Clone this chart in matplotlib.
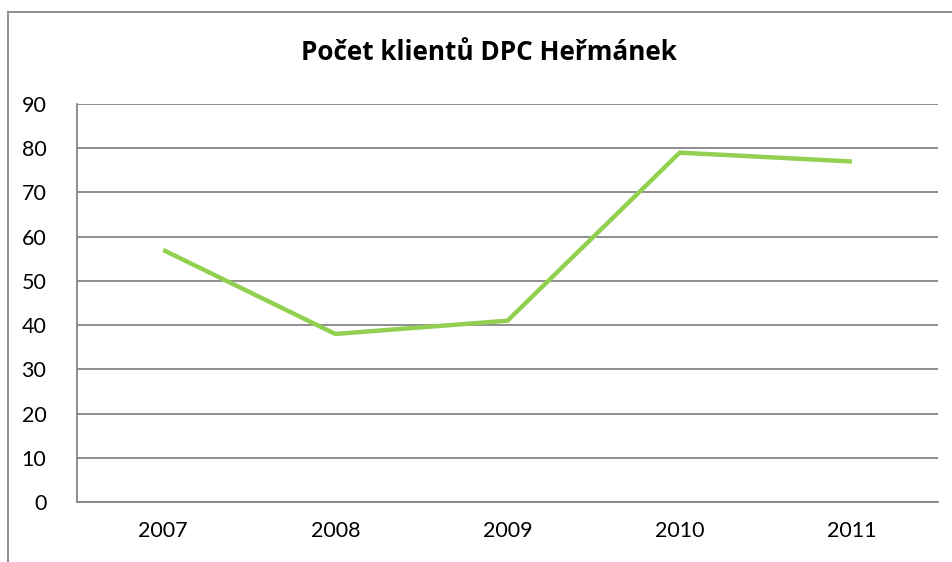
import matplotlib
matplotlib.use("Agg")
import matplotlib.pyplot as plt
from matplotlib.lines import Line2D

years = ["2007", "2008", "2009", "2010", "2011"]
clients = [57, 38, 41, 79, 77]
yticks = [0, 10, 20, 30, 40, 50, 60, 70, 80, 90]
title = "Počet klientů DPC Heřmánek"

plt.rcParams['font.family'] = ['Lato', 'DejaVu Sans']

W, H = 953, 562
fig = plt.figure(figsize=(W/100, H/100), dpi=100)
ax = fig.add_axes([77/W, 1-502/H, (938-77)/W, (502-104)/H])

x = range(len(years))
ax.plot(x, clients, color="#92D050", lw=3.2, solid_capstyle="butt", zorder=3)
ax.set_xlim(-0.5, len(years)-0.5)
ax.set_ylim(0, 90)
ax.set_yticks(yticks)
ax.set_xticks(list(x))
ax.set_xticklabels(years)
ax.grid(axis="y", color="#868686", lw=1.3)
ax.set_axisbelow(True)
for s in ["top", "right"]:
    ax.spines[s].set_visible(False)
for s in ["left", "bottom"]:
    ax.spines[s].set_color("#868686")
    ax.spines[s].set_linewidth(1.3)
ax.tick_params(length=0, labelsize=15.5, colors="black")
ax.tick_params(axis="y", pad=22)
ax.tick_params(axis="x", pad=14)

fig.text(489/W, 1-53/H, title, ha="center", va="center", fontsize=18.8,
         fontweight="bold", family=["Open Sans", "DejaVu Sans"])

# outer chart border (cropped)
fig.add_artist(Line2D([8/W, 8/W], [0, 1-12/H], color="#868686", lw=1.3))
fig.add_artist(Line2D([8/W, 1], [1-12/H, 1-12/H], color="#868686", lw=1.3))

fig.savefig("out.png", dpi=100)
